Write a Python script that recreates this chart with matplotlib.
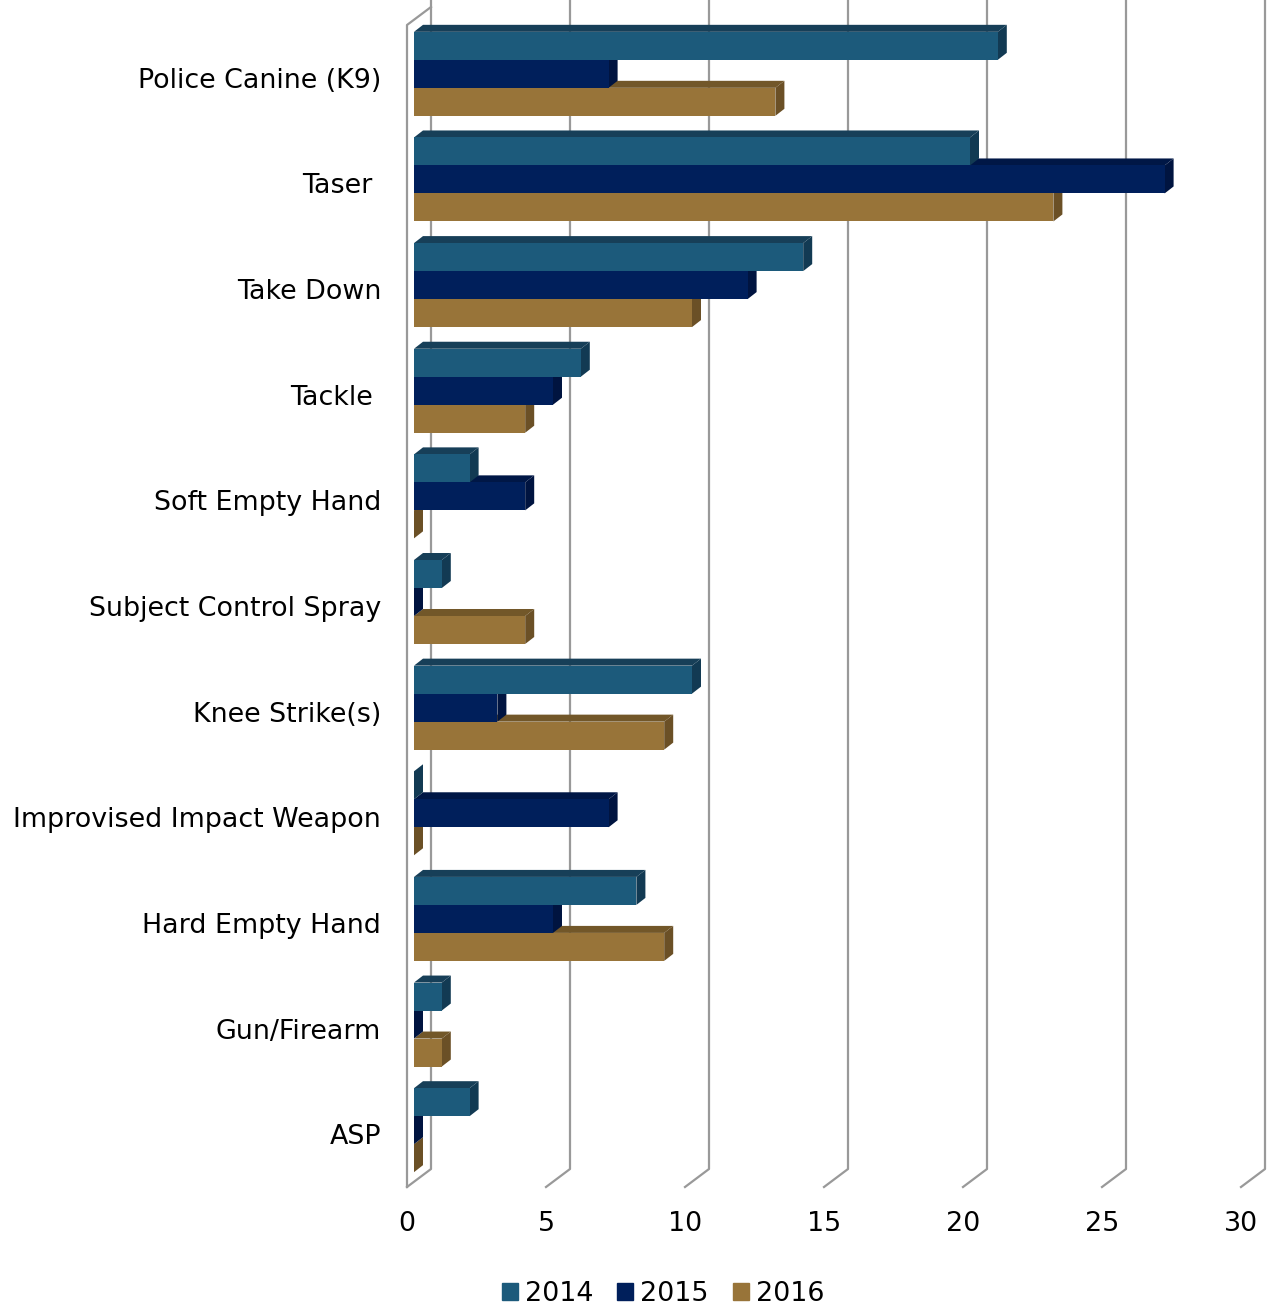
import matplotlib.pyplot as plt
import numpy as np
from matplotlib.patches import Polygon, Rectangle, Patch

categories = ["Police Canine (K9)", "Taser ", "Take Down", "Tackle ",
              "Soft Empty Hand", "Subject Control Spray", "Knee Strike(s)",
              "Improvised Impact Weapon", "Hard Empty Hand", "Gun/Firearm", "ASP"]
years = ["2014", "2015", "2016"]
v2014 = [21, 20, 14, 6, 2, 1, 10, 0, 8, 1, 2]
v2015 = [7, 27, 12, 5, 4, 0, 3, 7, 5, 0, 0]
v2016 = [13, 23, 10, 4, 0, 4, 9, 0, 9, 1, 0]
xticks = [0, 5, 10, 15, 20, 25, 30]

# face colours: front, top, side
colors = {
    "2014": ("#1c5a7b", "#173f58", "#123a53"),
    "2015": ("#001f5b", "#001746", "#001440"),
    "2016": ("#987439", "#725729", "#6b5026"),
}
series = {"2014": v2014, "2015": v2015, "2016": v2016}

W, H = 1267, 1309
fig = plt.figure(figsize=(W / 100, H / 100), dpi=100)
ax_l, ax_r, ax_t, ax_b = 407, 1241, 25, 1187
ax = fig.add_axes([ax_l / W, (H - ax_b) / H, (ax_r - ax_l) / W, (ax_b - ax_t) / H])
n = len(categories)
ax.set_xlim(0, 30)
ax.set_ylim(n - 0.5, -0.5)

# pixel -> data unit conversion for the 3D depth offsets
ux = (ax_r - ax_l) / 30.0
uy = (ax_b - ax_t) / float(n)
wall_dx, wall_dy = 24 / ux, -18 / uy
front_dx, front_dy = 7 / ux, -4 / uy
bar_dx, bar_dy = 9 / ux, -7 / uy

grid_c = "#999999"
# back wall gridlines with their floor diagonals
top_back = -0.5 + wall_dy
for v in xticks:
    ax.plot([v + wall_dx, v + wall_dx, v], [top_back - 1, n - 0.5 + wall_dy, n - 0.5],
            color=grid_c, lw=1.6, clip_on=False, zorder=1)
# left wall outline
ax.plot([0, 0, wall_dx], [n - 0.5, -0.5, top_back], color=grid_c, lw=1.6,
        clip_on=False, zorder=1)

h = 0.265
z = 2
for i in range(n - 1, -1, -1):
    for j in (2, 1, 0):
        yr = years[j]
        v = series[yr][i]
        fc, tc, sc = colors[yr]
        yc = i + (j - 1) * h
        x0 = front_dx
        yt = yc - h / 2 + front_dy
        yb = yc + h / 2 + front_dy
        top = Polygon([(x0, yt), (x0 + v, yt), (x0 + v + bar_dx, yt + bar_dy),
                       (x0 + bar_dx, yt + bar_dy)], closed=True, fc=tc, ec="none",
                      zorder=z, clip_on=False)
        side = Polygon([(x0 + v, yt), (x0 + v, yb), (x0 + v + bar_dx, yb + bar_dy),
                        (x0 + v + bar_dx, yt + bar_dy)], closed=True, fc=sc, ec="none",
                       zorder=z, clip_on=False)
        front = Rectangle((x0, yt), v, h, fc=fc, ec="none", zorder=z + 0.5, clip_on=False)
        ax.add_patch(top)
        ax.add_patch(side)
        ax.add_patch(front)
        z += 1

for s in ax.spines.values():
    s.set_visible(False)
ax.set_yticks(range(n))
ax.set_yticklabels(categories)
ax.set_xticks(xticks)
ax.tick_params(axis="both", length=0, labelsize=19.4)
ax.tick_params(axis="y", pad=18.7)
ax.tick_params(axis="x", pad=17)
ax.patch.set_visible(False)

handles = [Patch(color=colors[y][0], label=y) for y in years]
fig.legend(handles=handles, loc="center", bbox_to_anchor=(663 / W, 1 - 1294 / H),
           ncol=3, frameon=False, fontsize=19.4, handlelength=0.6, handleheight=0.6,
           handletextpad=0.25, columnspacing=0.9, borderaxespad=0)

plt.savefig("out.png", dpi=100)
